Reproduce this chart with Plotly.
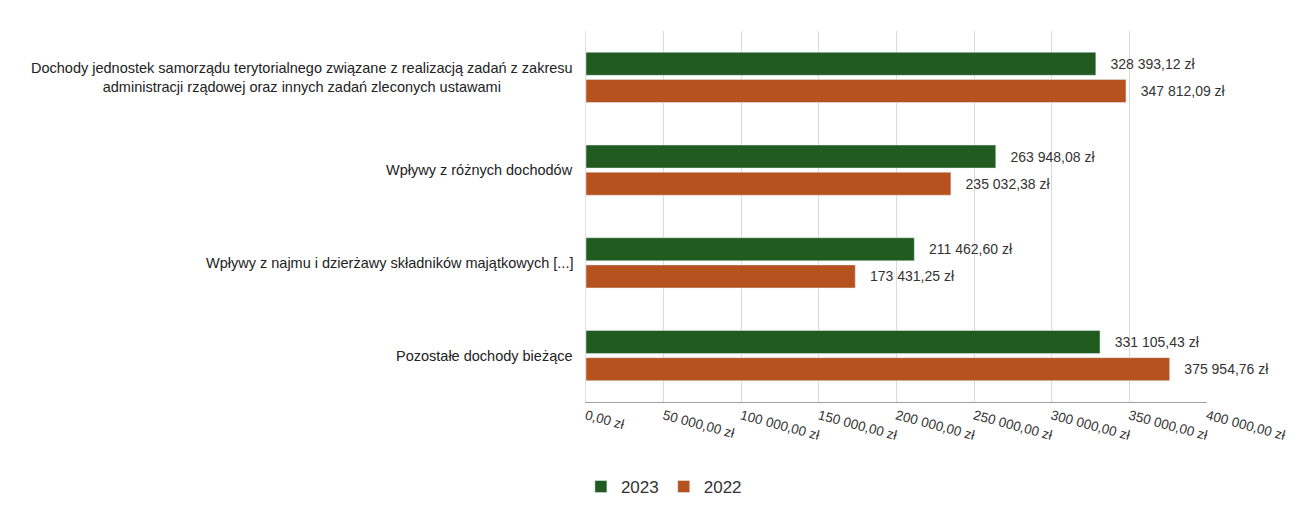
import plotly.graph_objects as go

categories = [
    "Dochody jednostek samorządu terytorialnego związane z realizacją zadań z zakresu<br>administracji rządowej oraz innych zadań zleconych ustawami",
    "Wpływy z różnych dochodów",
    "Wpływy z najmu i dzierżawy składników majątkowych [...]",
    "Pozostałe dochody bieżące",
]
values_2023 = [328393.12, 263948.08, 211462.60, 331105.43]
values_2022 = [347812.09, 235032.38, 173431.25, 375954.76]
tick_vals = [0, 50000, 100000, 150000, 200000, 250000, 300000, 350000, 400000]
tick_text = ["0,00 zł", "50 000,00 zł", "100 000,00 zł", "150 000,00 zł", "200 000,00 zł",
             "250 000,00 zł", "300 000,00 zł", "350 000,00 zł", "400 000,00 zł"]


def fmt(v):
    s = f"{v:,.2f}".replace(",", " ").replace(".", ",")
    return "   " + s + " zł"


cat_ids = list(range(len(categories)))
GREEN = "#215b20"
ORANGE = "#b5521d"

fig = go.Figure()
fig.add_trace(go.Bar(
    y=cat_ids, x=values_2023, orientation="h", name="2023",
    marker=dict(color=GREEN),
    text=[fmt(v) for v in values_2023], textposition="outside",
    textfont=dict(size=14, color="#333333", family="Liberation Sans"),
    cliponaxis=False,
))
fig.add_trace(go.Bar(
    y=cat_ids, x=values_2022, orientation="h", name="2022",
    marker=dict(color=ORANGE),
    text=[fmt(v) for v in values_2022], textposition="outside",
    textfont=dict(size=14, color="#333333", family="Liberation Sans"),
    cliponaxis=False,
))

annotations = []
for i, c in enumerate(categories):
    annotations.append(dict(
        x=0, xref="paper", xshift=-11, y=i, yref="y", text=c, showarrow=False,
        xanchor="right", yanchor="middle", align="center",
        font=dict(size=14.5, color="#222222", family="Liberation Sans"),
    ))

fig.update_layout(
    width=1314, height=515,
    margin=dict(l=578, r=115, t=23, b=121),
    paper_bgcolor="white", plot_bgcolor="white",
    barmode="group", bargap=0.415, bargroupgap=0.15,
    font=dict(family="Liberation Sans", color="#333333"),
    annotations=annotations,
    legend=dict(
        orientation="h", x=0.436, xref="container", y=0.035, yref="container",
        xanchor="left", yanchor="bottom",
        font=dict(size=17, color="#333333"), itemwidth=30,
    ),
    xaxis=dict(
        range=[0, 400000], tickvals=tick_vals, ticktext=tick_text,
        tickangle=15, showgrid=True, gridcolor="#dadada", gridwidth=1,
        zeroline=False, showline=True, linecolor="#a0a0a0",
        tickfont=dict(size=13.5, color="#333333"),
        ticks="",
    ),
    yaxis=dict(
        tickvals=cat_ids, showticklabels=False, autorange="reversed",
        showline=True, linecolor="#e0e0e0", ticks="", showgrid=False,
        zeroline=False,
    ),
)

fig.write_html("out.html")
